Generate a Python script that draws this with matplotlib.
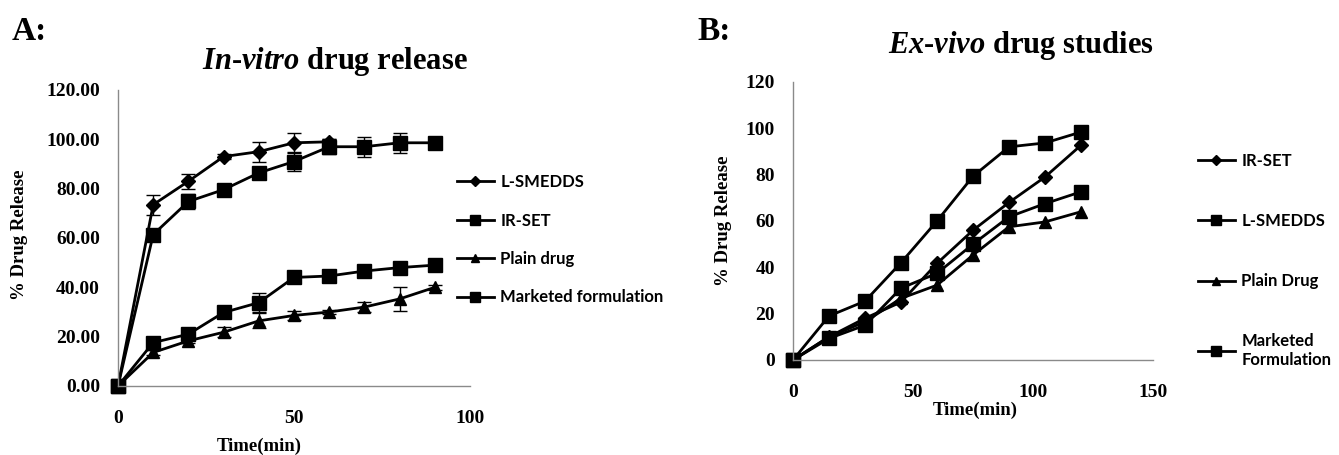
import numpy as np
import matplotlib
matplotlib.use('Agg')
import matplotlib.pyplot as plt

plt.rcParams['font.family'] = 'Liberation Serif'
plt.rcParams['font.weight'] = 'bold'
plt.rcParams['mathtext.fontset'] = 'custom'
plt.rcParams['mathtext.it'] = 'Liberation Serif:italic'
plt.rcParams['mathtext.rm'] = 'Liberation Serif:bold'

# Panel A: in-vitro release (time in min, % release)
t_a = [0, 10, 20, 30, 40, 50, 60, 70, 80, 90]
t_lsm = [0, 10, 20, 30, 40, 50, 60]
lsmedds_a = [0, 73.5, 83, 93, 95, 98.6, 99]
lsmedds_a_err = [0, 4, 3, 1, 4, 4, 1]
irset_a = [0, 61.4, 74.8, 79.6, 86.4, 91, 97, 97, 98.6, 98.6]
irset_a_err = [0, 1, 3, 1, 1, 4, 3, 4, 4, 1]
plain_a = [0, 13.6, 18.3, 21.8, 26.4, 28.6, 30, 32, 35.3, 40]
plain_a_err = [0, 1, 1, 2, 3, 2, 1, 2, 5, 1]
market_a = [0, 17.6, 21, 29.8, 33.8, 44, 44.6, 46.6, 48, 49]
market_a_err = [0, 1, 1, 1, 4, 2, 1, 1, 1, 1]

# Panel B: ex-vivo studies
t_b = [0, 15, 30, 45, 60, 75, 90, 105, 120]
irset_b = [0, 10, 18, 25, 41.7, 56, 68, 79, 92.7]
lsmedds_b = [0, 19, 25.4, 42, 60, 79.3, 92, 93.7, 98.4]
plain_b = [0, 10, 16.5, 26.6, 32.3, 45.3, 57.5, 59.6, 64]
market_b = [0, 9.3, 15, 31, 37.4, 50, 61.8, 67.5, 72.6]

W, H = 1339, 455
fig = plt.figure(figsize=(W / 100, H / 100), dpi=100)
axA = fig.add_axes([118 / W, 1 - 386 / H, 352 / W, 296 / H])
axB = fig.add_axes([793 / W, 1 - 360 / H, 360 / W, 278 / H])

lw = 2.0
ekw = dict(ecolor='black', elinewidth=1.0, capsize=5, capthick=1.0)

eA = []
eA.append(axA.errorbar(t_lsm, lsmedds_a, yerr=lsmedds_a_err, color='black', lw=lw,
                       marker='D', ms=7, label='L-SMEDDS', **ekw))
eA.append(axA.errorbar(t_a, irset_a, yerr=irset_a_err, color='black', lw=lw,
                       marker='s', ms=10, label='IR-SET', **ekw))
eA.append(axA.errorbar(t_a, plain_a, yerr=plain_a_err, color='black', lw=lw,
                       marker='^', ms=9, label='Plain drug', **ekw))
eA.append(axA.errorbar(t_a, market_a, yerr=market_a_err, color='black', lw=lw,
                       marker='s', ms=10, label='Marketed formulation', **ekw))

axB.plot(t_b, irset_b, color='black', lw=lw, marker='D', ms=7, label='IR-SET')
axB.plot(t_b, lsmedds_b, color='black', lw=lw, marker='s', ms=10, label='L-SMEDDS')
axB.plot(t_b, plain_b, color='black', lw=lw, marker='^', ms=9, label='Plain Drug')
axB.plot(t_b, market_b, color='black', lw=lw, marker='s', ms=10,
         label='Marketed\nFormulation')

axA.set_xlim(0, 100)
axA.set_ylim(0, 120)
axA.set_xticks([0, 50, 100])
axA.set_yticks(np.arange(0, 121, 20))
axA.set_yticklabels(['%.2f' % v for v in np.arange(0, 121, 20)])

axB.set_xlim(0, 150)
axB.set_ylim(0, 120)
axB.set_xticks([0, 50, 100, 150])
axB.set_yticks(np.arange(0, 121, 20))

for ax in (axA, axB):
    for s in ('top', 'right'):
        ax.spines[s].set_visible(False)
    for s in ('left', 'bottom'):
        ax.spines[s].set_color('#8a8a8a')
        ax.spines[s].set_linewidth(1.0)
    ax.tick_params(axis='both', length=0, labelsize=14)
    ax.tick_params(axis='y', pad=13)
    ax.tick_params(axis='x', pad=17)
    for lab in ax.get_xticklabels() + ax.get_yticklabels():
        lab.set_fontweight('bold')
    for a in ax.lines:
        a.set_clip_on(False)

axA.set_ylabel('% Drug Release', fontsize=13.5, fontweight='bold')
axA.yaxis.set_label_coords(-0.256, 0.51)
axA.set_xlabel('Time(min)', fontsize=13.5, fontweight='bold')
axA.xaxis.set_label_coords(0.40, -0.175)

axB.set_ylabel('% Drug Release', fontsize=13.5, fontweight='bold')
axB.yaxis.set_label_coords(-0.17, 0.50)
axB.set_xlabel('Time(min)', fontsize=13.5, fontweight='bold')
axB.xaxis.set_label_coords(0.505, -0.15)

fig.text(12 / W, 1 - 32 / H, 'A:', fontsize=24, fontweight='bold', ha='left', va='center')
fig.text(697 / W, 1 - 32 / H, 'B:', fontsize=24, fontweight='bold', ha='left', va='center')
fig.text(335 / W, 1 - 62 / H, r'$\mathit{In}$-$\mathit{vitro}$ drug release',
         fontsize=22, fontweight='bold', ha='center', va='center')
fig.text(1021 / W, 1 - 45 / H, r'$\mathit{Ex}$-$\mathit{vivo}$ drug studies',
         fontsize=22, fontweight='bold', ha='center', va='center')

legprop = {'family': 'Lato', 'weight': 'bold', 'size': 12}
hA = [c[0] for c in eA]
lA = ['L-SMEDDS', 'IR-SET', 'Plain drug', 'Marketed formulation']
fig.legend(hA, lA, loc='upper left', bbox_to_anchor=(457 / W, 1 - 174 / H),
           frameon=False, borderpad=0, borderaxespad=0, handlelength=2.2,
           handletextpad=0.4, labelspacing=1.35, markerscale=0.7, prop=legprop)
hB, lB = axB.get_legend_handles_labels()
fig.legend(hB, lB, loc='upper left', bbox_to_anchor=(1198 / W, 1 - 153 / H),
           frameon=False, borderpad=0, borderaxespad=0, handlelength=2.2,
           handletextpad=0.4, labelspacing=2.65, markerscale=0.7, prop=legprop)

fig.savefig('out.png', dpi=100)
